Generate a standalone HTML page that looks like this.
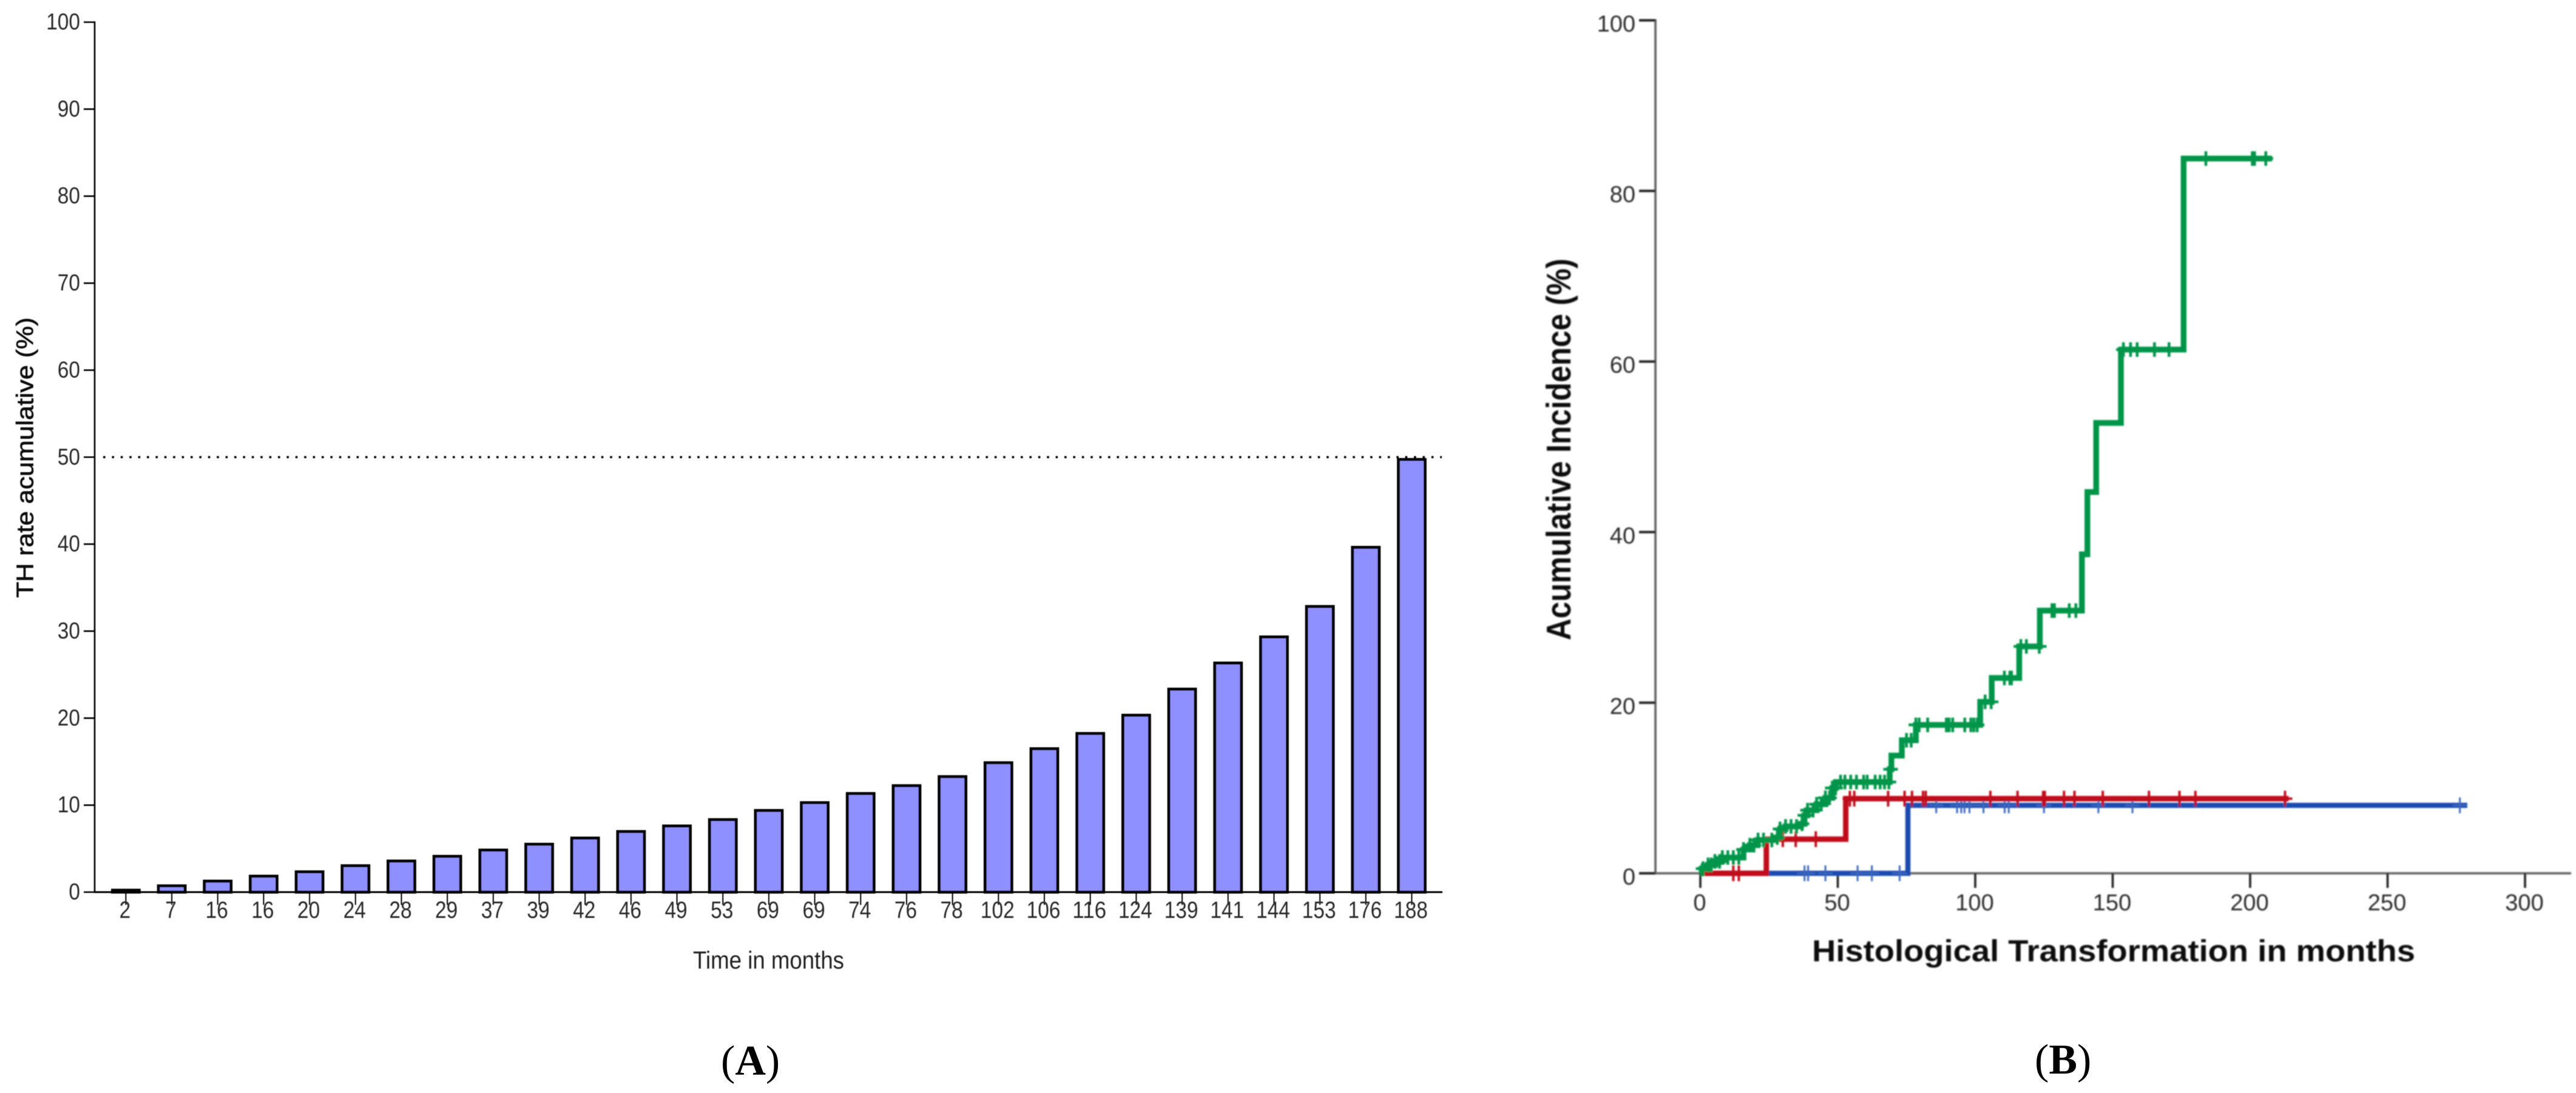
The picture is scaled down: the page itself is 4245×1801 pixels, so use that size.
<!DOCTYPE html>
<html lang="en">
<head>
<meta charset="utf-8">
<title>Histological transformation charts</title>
<style>
html,body{margin:0;padding:0;background:#fff;}
svg{display:block;}
text{font-family:"Liberation Sans",sans-serif;}
</style>
</head>
<body>
<svg id="figure" xmlns="http://www.w3.org/2000/svg" width="4245" height="1801" viewBox="0 0 4245 1801">
  <defs>
    <filter id="softB" x="-2%" y="-2%" width="104%" height="104%"><feGaussianBlur stdDeviation="1.1"/></filter>
    <filter id="softA" x="-2%" y="-2%" width="104%" height="104%"><feGaussianBlur stdDeviation="0.6"/></filter>
  </defs>
  <rect width="4245" height="1801" fill="#fff"/>
  <g id="panelA" filter="url(#softA)">
    <text transform="translate(54.5,985) rotate(-90)" font-size="39" fill="#111" stroke="#111" stroke-width="0.7" textLength="462" lengthAdjust="spacingAndGlyphs">TH rate acumulative (%)</text>
    <text x="1142" y="1596" font-size="41" fill="#222" textLength="249" lengthAdjust="spacingAndGlyphs">Time in months</text>
  </g>
  <g id="panelB" filter="url(#softB)">
    <text transform="translate(2588,1055) rotate(-90)" font-size="57" font-weight="700" fill="#111" textLength="629" lengthAdjust="spacingAndGlyphs">Acumulative Incidence (%)</text>
    <text x="2986" y="1584" font-size="50" font-weight="700" fill="#111" textLength="994" lengthAdjust="spacingAndGlyphs">Histological Transformation in months</text>
  </g>
  <text x="1188" y="1771" font-size="70" fill="#000" style="font-family:'Liberation Serif',serif">(<tspan font-weight="700">A</tspan>)</text>
  <text x="3353" y="1769" font-size="70" fill="#000" style="font-family:'Liberation Serif',serif">(<tspan font-weight="700">B</tspan>)</text>
</svg>
<script>
// Panel A data
const barLabels = ["2","7","16","16","20","24","28","29","37","39","42","46","49","53","69","69","74","76","78","102","106","116","124","139","141","144","153","176","188"];
const barValues = [0.39,0.89,1.43,2.0,2.5,3.2,3.74,4.28,5.0,5.67,6.38,7.13,7.77,8.5,9.55,10.45,11.5,12.4,13.44,15.04,16.65,18.4,20.5,23.5,26.5,29.5,33.0,39.8,49.9];
const yTicksA = [0,10,20,30,40,50,60,70,80,90,100];
const referenceValueA = 50;

// Panel B data
const xTicksB = [0,50,100,150,200,250,300];
const yTicksB = [0,20,40,60,80,100];
const greenStepTimes  = [0,0.5,2.8,5.3,8,15.7,18,20.8,27,29,31,36.6,37.9,39,42.3,45.5,48,49.3,68.9,69.5,73.3,78.4,101.8,106,116,123.5,138.8,140.8,144,153,175.8];
const greenStepValues = [0,0.55,1.0,1.4,1.85,2.8,3.3,3.9,4.2,5.2,5.5,5.8,6.8,7.4,8.1,8.85,10.0,10.7,12.2,13.8,15.6,17.4,20.1,22.9,26.6,30.8,37.4,44.7,52.8,61.4,83.8];
const greenEndTime = 208;
const redStepTimes  = [0,24,52.9];
const redStepValues = [0,4.0,8.75];
const redEndTime = 214;
const blueStepTimes  = [0,75.5];
const blueStepValues = [0,7.97];
const blueEndTime = 279;
const greenCensors = [1,2.8,4,5.3,7,8,10,12,14,15.7,18,19.5,21,23,26,28,29,31,33,35,37,38,39,41,42.3,44,45.5,47,48,49.2,51,52.6,54.7,56.8,59.4,60.7,63.6,65.4,67,68.6,69.2,75,76.7,78.4,79.6,82.7,89.5,90.5,91.8,96.2,98.4,99.5,100.7,103.6,105.8,110.6,112.6,113.2,116.6,118.6,123.3,127.9,128.8,134.2,136.6,153.9,156.5,158.9,165.2,170.5,183.9,200.8,201.6,205.7];
const redCensors = [12,14,30,34.7,42,54.4,56,68.3,74.3,77,81,82,105.5,115.4,124.7,125.3,132.3,136.1,146.4,163.2,174.3,180.1,212.7];
const blueCensors = [37.9,39.2,45.5,57.2,62.4,72.5,85.8,93.4,94.9,96.1,97.9,103,110.7,112.2,125,144.8,157.2,276.3];

const SVGNS = "http://www.w3.org/2000/svg";
function svgEl(tag, attrs, parent, txt){
  const el = document.createElementNS(SVGNS, tag);
  for (const k in attrs) el.setAttribute(k, attrs[k]);
  if (txt !== undefined) el.textContent = txt;
  parent.appendChild(el);
  return el;
}

// ---------- Panel A ----------
const panelA = document.getElementById("panelA");
const A_Y0 = 1470, A_PER_UNIT = 14.335, A_AXIS_X = 156, A_FIRST = 207.4, A_STEP = 75.68, A_BAR_W = 44;
const yA = v => A_Y0 - v * A_PER_UNIT;
const xA = i => A_FIRST + i * A_STEP;

barValues.forEach((v, i) => {
  const top = yA(v) + 2.4;
  const bar = svgEl("rect", {x: xA(i) - A_BAR_W / 2, y: top, width: A_BAR_W, height: Math.max(A_Y0 - top, 0.5), fill: "#8f8fff", stroke: "#000", "stroke-width": 4.8}, panelA);
  
  
});

const refLine = svgEl("line", {x1: A_AXIS_X + 14, x2: 2376, y1: yA(referenceValueA), y2: yA(referenceValueA), stroke: "#000", "stroke-width": 3.6, "stroke-dasharray": "3.6 10.8"}, panelA);



const axisYA = svgEl("line", {x1: A_AXIS_X, x2: A_AXIS_X, y1: yA(100) - 1.2, y2: A_Y0 + 1.5, stroke: "#000", "stroke-width": 2.6}, panelA);



const axisXA = svgEl("line", {x1: A_AXIS_X, x2: 2377, y1: A_Y0, y2: A_Y0, stroke: "#000", "stroke-width": 3}, panelA);



yTicksA.forEach(t => {
  const tick = svgEl("line", {x1: 138, x2: A_AXIS_X, y1: yA(t), y2: yA(t), stroke: "#000", "stroke-width": 2.6}, panelA);
  
  
  const s = String(t);
  const lab = svgEl("text", {x: 132, y: yA(t) + 12, "font-size": 38, fill: "#2a2a2a", "text-anchor": "end", textLength: s.length * 18.6, lengthAdjust: "spacingAndGlyphs"}, panelA, s);
  
  
});

barLabels.forEach((s, i) => {
  const tick = svgEl("line", {x1: xA(i), x2: xA(i), y1: A_Y0, y2: A_Y0 + 21, stroke: "#000", "stroke-width": 2}, panelA);
  
  
  const lab = svgEl("text", {x: xA(i) - 1.5, y: 1512.5, "font-size": 39, fill: "#2a2a2a", "text-anchor": "middle", textLength: s.length * 18.6, lengthAdjust: "spacingAndGlyphs"}, panelA, s);
  
  
});

// ---------- Panel B ----------
const panelB = document.getElementById("panelB");
const B_Y0 = 1439, B_PER_UNIT = 14.055, B_X0 = 2802, B_PER_MONTH = 4.53, B_AXIS_X = 2728;
const yB = v => B_Y0 - v * B_PER_UNIT;
const xB = t => B_X0 + t * B_PER_MONTH;

const axisYB = svgEl("line", {x1: B_AXIS_X, x2: B_AXIS_X, y1: yB(100) - 2, y2: B_Y0 + 2, stroke: "#666", "stroke-width": 3.8}, panelB);



const axisXB = svgEl("line", {x1: B_AXIS_X, x2: 4237, y1: B_Y0, y2: B_Y0, stroke: "#666", "stroke-width": 3.8}, panelB);



yTicksB.forEach(t => {
  const tick = svgEl("line", {x1: 2701, x2: B_AXIS_X, y1: yB(t), y2: yB(t), stroke: "#222", "stroke-width": 4}, panelB);
  
  
  const lab = svgEl("text", {x: 2695, y: yB(t) + 18.5, "font-size": 38, fill: "#2a2a2a", "text-anchor": "end"}, panelB, String(t));
  
  
});

xTicksB.forEach(t => {
  const tick = svgEl("line", {x1: xB(t), x2: xB(t), y1: B_Y0, y2: B_Y0 + 24, stroke: "#222", "stroke-width": 3.6}, panelB);
  
  
  const lab = svgEl("text", {x: xB(t) - 1, y: 1500, "font-size": 38, fill: "#2a2a2a", "text-anchor": "middle"}, panelB, String(t));
  
  
});

function stepPath(times, values, end){
  let d = "M" + xB(times[0]) + " " + yB(values[0]);
  for (let i = 1; i < times.length; i++){
    d += " H" + xB(times[i]) + " V" + yB(values[i]);
  }
  return d + " H" + xB(end);
}
function valueAt(times, values, t){
  let v = values[0];
  for (let i = 0; i < times.length; i++){ if (times[i] <= t) v = values[i]; }
  return v;
}
function censorPath(times, values, censors, half, arm){
  let d = "";
  censors.forEach(t => {
    const x = xB(t), y = yB(valueAt(times, values, t));
    d += "M" + x + " " + (y - half) + " V" + (y + half) + " M" + (x - arm) + " " + y + " H" + (x + arm) + " ";
  });
  return d;
}

const blueLine = svgEl("path", {d: stepPath(blueStepTimes, blueStepValues, blueEndTime), fill: "none", stroke: "#1a4cb0", "stroke-width": 8.5}, panelB);


const blueMarks = svgEl("path", {d: censorPath(blueStepTimes, blueStepValues, blueCensors, 13, 12), fill: "none", stroke: "#3a66bd", "stroke-width": 3}, panelB);



const redLine = svgEl("path", {d: stepPath(redStepTimes, redStepValues, redEndTime), fill: "none", stroke: "#c00a1c", "stroke-width": 9}, panelB);


const redMarks = svgEl("path", {d: censorPath(redStepTimes, redStepValues, redCensors, 13, 12), fill: "none", stroke: "#c00a1c", "stroke-width": 4}, panelB);



const greenLine = svgEl("path", {d: stepPath(greenStepTimes, greenStepValues, greenEndTime), fill: "none", stroke: "#009548", "stroke-width": 9.5}, panelB);


const greenMarks = svgEl("path", {d: censorPath(greenStepTimes, greenStepValues, greenCensors, 12, 12), fill: "none", stroke: "#009548", "stroke-width": 4.6}, panelB);


</script>
</body>
</html>
